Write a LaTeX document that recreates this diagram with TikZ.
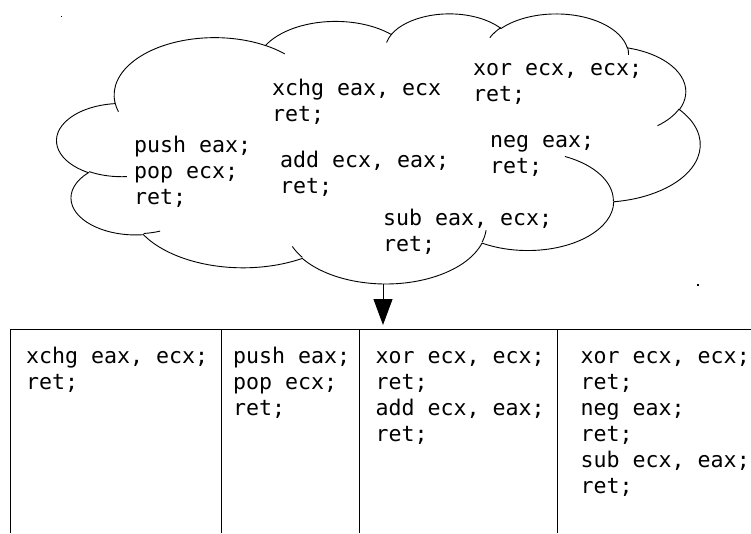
\documentclass[tikz,border=0pt]{standalone}
\usepackage{fontspec}
\setmonofont{DejaVu Sans Mono}
\usetikzlibrary{arrows.meta}
% convert an OOXML arcTo (visual angles) into parametric TikZ angles
\newcommand\cldprep[5]{%
  \pgfmathsetmacro\cldta{atan2((#2)*sin(#4),(#3)*cos(#4))}%
  \pgfmathsetmacro\cldtb{atan2((#2)*sin((#4)+(#5)),(#3)*cos((#4)+(#5)))}%
  \pgfmathsetmacro\cldtb{(#5>0)*(\cldtb+360*(\cldtb<\cldta))+(#5<=0)*(\cldtb-360*(\cldtb>\cldta))}%
  \expandafter\xdef\csname cldS#1\endcsname{\cldta}%
  \expandafter\xdef\csname cldE#1\endcsname{\cldtb}%
  \expandafter\xdef\csname cldX#1\endcsname{#2}%
  \expandafter\xdef\csname cldY#1\endcsname{#3}%
}
\newcommand\carc[1]{arc[start angle=\csname cldS#1\endcsname,end angle=\csname cldE#1\endcsname,x radius=\csname cldX#1\endcsname,y radius=\csname cldY#1\endcsname]}
\tikzset{
  codetext/.style={font=\ttfamily\fontsize{21.6}{26}\selectfont\frenchspacing,
    align=left, inner sep=0pt, anchor=north west},
  cloudline/.style={line width=0.9pt, black},
  tableline/.style={line width=1pt, black},
  arrowline/.style={line width=1pt, -{Triangle[width=19pt,length=26pt]}},
}
\begin{document}
\begin{tikzpicture}[x=1pt,y=-1pt]
\useasboundingbox (0,0) rectangle (751,533);
% arc data (outline)
\cldprep{A}{67.53}{91.90}{-190.48748}{123.78053}
\cldprep{B}{53.33}{72.67}{-144.10238}{89.94523}
\cldprep{C}{43.65}{59.45}{-145.80792}{99.72302}
\cldprep{D}{48.57}{65.95}{-130.98607}{117.24173}
\cldprep{E}{53.33}{72.73}{-78.70888}{109.02692}
\cldprep{F}{67.75}{92.20}{-46.26725}{130.269}
\cldprep{G}{57.85}{78.67}{0.62502}{114.03333}
\cldprep{H}{67.52}{92.15}{22.4516}{115.17255}
\cldprep{I}{77.20}{105.43}{66.24263}{75.71102}
\cldprep{J}{43.60}{59.18}{-274.94208}{146.73557}
\cldprep{K}{43.45}{59.45}{-246.8285}{152.51885}
% inner arcs
\cldprep{L}{43.45}{59.45}{86.742}{26.4295}
\cldprep{M}{43.60}{59.18}{73.61047}{11.44747}
\cldprep{N}{67.52}{92.15}{137.62415}{14.0811}
\cldprep{O}{67.52}{92.15}{6.45327}{15.99835}
\cldprep{P}{57.85}{78.67}{-70.29235}{70.91737}
\cldprep{Q}{53.33}{72.73}{30.31803}{27.7515}
\cldprep{R}{48.57}{65.95}{-13.74433}{14.8589}
\cldprep{S}{48.57}{65.95}{-149.18145}{18.19537}
\cldprep{T}{43.65}{59.45}{-163.49427}{17.68635}
\cldprep{U}{67.53}{91.90}{-66.70695}{12.31935}
\cldprep{V}{67.53}{91.90}{157.65435}{11.85817}
% cloud
\begin{scope}[shift={(57pt,-13pt)}, x=1.4884pt, y=-0.625pt]
  \draw[cloudline, fill=white] (39.00,143.70) \carc{A} \carc{B} \carc{C} \carc{D}
    \carc{E} \carc{F} \carc{G} \carc{H} \carc{I} \carc{J} \carc{K} -- cycle;
  \draw[cloudline] (46.93,261.77) \carc{L} (69.28,348.99) \carc{M}
    (164.78,390.90) \carc{N} (288.27,347.51) \carc{O}
    (341.29,229.54) \carc{P} (417.98,153.54) \carc{Q}
    (383.24,54.26) \carc{R} (290.78,39.52) \carc{S}
    (221.41,47.20) \carc{T} (140.00,51.92) \carc{U}
    (41.27,157.89) \carc{V};
\end{scope}
% corner marks
\fill (60.8,15.8) rectangle (62.3,17.3);
\fill (697,284) rectangle (698.5,285.5);
% cloud texts
\node[codetext] (g1) at (272,76.8) {\strut xchg eax, ecx\\ret;};
\node[codetext] (g2) at (473,56.8) {\strut xor ecx, ecx;\\ret;};
\node[codetext] (g3) at (134,133.8) {\strut push eax;\\pop ecx;\\ret;};
\node[codetext] (g4) at (280,148.8) {\strut add ecx, eax;\\ret;};
\node[codetext] (g5) at (490,128.8) {\strut neg eax;\\ret;};
\node[codetext] (g6) at (383,206.8) {\strut sub eax, ecx;\\ret;};
% arrow
\coordinate (cloudbottom) at (383,284);
\coordinate (tabletop) at (383,325);
\draw[arrowline] (cloudbottom) -- (tabletop);
% table
\draw[tableline] (10,533) -- (10,329) -- (751,329);
\draw[tableline] (221,329) -- (221,533);
\draw[tableline] (359,329) -- (359,533);
\draw[tableline] (557,329) -- (557,533);
\node[codetext] (c1) at (26,344.8) {\strut xchg eax, ecx;\\ret;};
\node[codetext] (c2) at (233,344.8) {\strut push eax;\\pop ecx;\\ret;};
\node[codetext] (c3) at (375.5,344.8) {\strut xor ecx, ecx;\\ret;\\add ecx, eax;\\ret;};
\node[codetext] (c4) at (580.5,344.8) {\strut xor ecx, ecx;\\ret;\\neg eax;\\ret;\\sub ecx, eax;\\ret;};
\end{tikzpicture}
\end{document}
